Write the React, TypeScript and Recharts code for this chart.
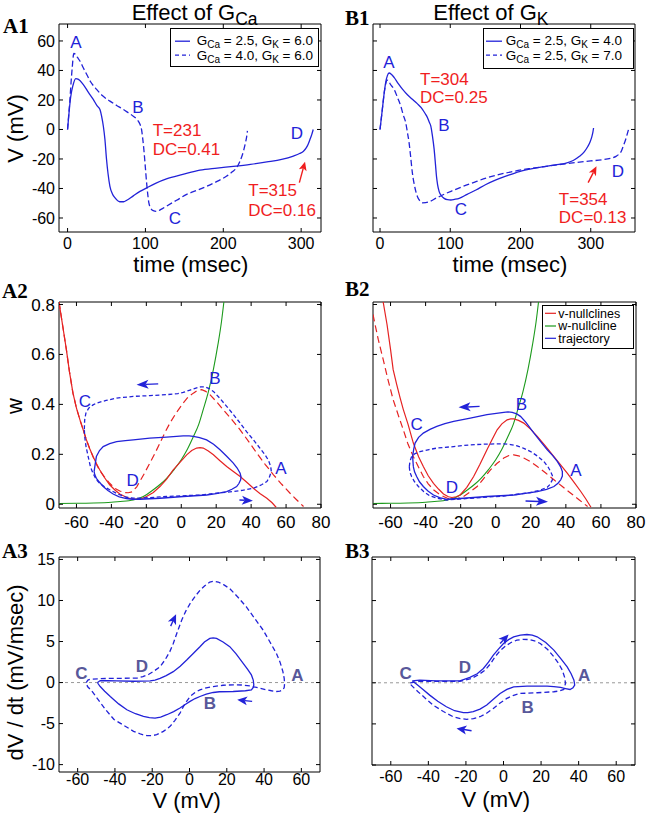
import React from "react";
import { LineChart, Line, XAxis, YAxis, ReferenceLine, ReferenceDot, ReferenceArea } from "recharts";

type Pt = [number, number];

// ---- A1 / B1: membrane potential V (mV) against time (msec)
const a1Solid: Pt[] = [
  [0, 0], [2, 12], [4, 22], [7, 30], [10.5, 34.5], [14, 34], [20, 30.6], [27, 25], [33, 20.4],
  [38, 16], [41.6, 13.6], [43.7, 9], [46, 2], [48, -6.8], [50, -20], [52, -30], [54.4, -38.5],
  [57.5, -43.5], [61, -46.4], [67, -49], [72, -49], [76, -48], [84.4, -45], [93, -42],
  [101.5, -39.6], [113, -36.5], [127, -33.5], [148, -30.5], [170, -27.6], [192, -26.2],
  [213, -25], [235, -23.6], [256, -22], [275, -20.3], [290, -18], [298, -16.3], [303, -14.7],
  [306.5, -12.5], [309, -10], [311.5, -6.5], [313.6, -3.5], [315.5, 0],
];
const a1Dashed: Pt[] = [
  [0, 0], [1.5, 10], [3, 20], [4.5, 32], [6, 42], [8, 51.5], [10, 51], [12.5, 49], [15.9, 46.4],
  [20, 42], [24.5, 37.4], [30, 32], [37.3, 27.2], [45, 22.8], [54.4, 19.2], [63, 16.3],
  [71.5, 13.6], [78, 11.3], [84.4, 9], [88, 7.5], [90.8, 5.7], [93, 3.5], [95, 0], [96.5, -6],
  [98, -13.6], [99.8, -25], [101.5, -36], [103, -44], [104.5, -50], [107, -53.5], [110, -55],
  [114.4, -55.5], [120, -54.2], [127, -52], [140, -48], [153, -44], [165, -41.5],
  [178.7, -38.5], [192, -35.2], [204, -31.7], [212, -28.5], [217, -26], [221, -22], [224, -18],
  [226.5, -13.5], [228.5, -9], [230, -5], [231, -1],
];
const b1Solid: Pt[] = [
  [0, 0], [3.3, 13.7], [6, 25], [8.1, 32], [10.5, 36.5], [12.8, 38.3], [16, 37.5], [20, 35.3],
  [26, 31], [31.9, 27.3], [39, 23.5], [46.1, 20.5], [53, 17.5], [60.4, 13.7], [64, 11],
  [67.6, 8], [70, 5], [72.3, 2.3], [74.5, -4], [77.1, -13.7], [79, -24], [80.4, -31.9],
  [82, -37.5], [84.2, -42.1], [87.5, -45], [91.3, -46.7], [96, -47.6], [100.9, -47.8],
  [106, -47.4], [112.7, -46.7], [124, -44], [136.5, -41], [150, -37.5], [165, -34.2],
  [180, -31.5], [198.4, -28.5], [217, -26.5], [236.4, -25], [250, -24], [265, -22.8],
  [275, -21], [284, -18.2], [291, -15], [296, -11.4], [299, -8.5], [301.5, -5], [303, -2], [304, 1],
];
const b1Dashed: Pt[] = [
  [0, 0], [3.3, 13.7], [6, 25], [8.1, 31], [10, 33.5], [12, 33], [15, 30.5], [20, 27.3],
  [25, 21.5], [29.5, 15.9], [33, 10], [36.6, 4.6], [39, -2], [41.4, -9.1], [43.5, -18],
  [46.1, -29.6], [49.5, -39], [53.3, -45.6], [57, -48.5], [60.4, -49.7], [65, -49.6], [70, -49],
  [80, -46.5], [89, -44.4], [103, -41.5], [117.5, -38.7], [134, -35.8], [150.8, -33],
  [170, -30.5], [188.9, -28.5], [212, -26.6], [236.4, -25], [260, -23.5], [284, -22.1],
  [300, -21.3], [317.3, -20.5], [328, -19.5], [336, -18.2], [340, -16.8], [343.5, -14.8],
  [346.5, -11], [349.7, -6.8], [352, -3], [354.4, 1.1],
];

// ---- A2 / B2: phase plane (V, w)
const wNull: Pt[] = [
  [-70, 0.003], [-60, 0.004], [-50, 0.005], [-40, 0.008], [-35, 0.011], [-30, 0.014],
  [-27.5, 0.017], [-22, 0.03], [-16, 0.058], [-12, 0.08], [-8.4, 0.104], [-4, 0.14], [0, 0.178],
  [3.5, 0.22], [6.9, 0.27], [10, 0.32], [12.6, 0.38], [15.5, 0.45], [18.4, 0.54], [21, 0.64],
  [23, 0.73], [24.4, 0.81],
];
const a2vNullSolid: Pt[] = [
  [-70, 0.81], [-68, 0.72], [-65.8, 0.62], [-64, 0.53], [-62, 0.445], [-60, 0.385], [-58, 0.338],
  [-56, 0.295], [-54.3, 0.258], [-52.4, 0.222], [-50.5, 0.191], [-48.6, 0.163], [-46.7, 0.138],
  [-44, 0.107], [-41, 0.078], [-38, 0.057], [-35.2, 0.041], [-32, 0.03], [-29.4, 0.023],
  [-25.6, 0.02], [-22.5, 0.023], [-19.9, 0.031], [-16, 0.047], [-12.2, 0.071], [-8.5, 0.1],
  [-4.6, 0.138], [-0.5, 0.17], [3.1, 0.198], [6, 0.215], [8.8, 0.225], [10.7, 0.227],
  [12.6, 0.225], [15.5, 0.213], [18.4, 0.198], [22, 0.175], [26, 0.151], [30, 0.13],
  [33.7, 0.111], [37.5, 0.088], [41.3, 0.064], [45, 0.043], [49, 0.024], [52, 0.006], [54.3, -0.012],
];
const a2vNullDashed: Pt[] = [
  [-70, 0.81], [-68, 0.72], [-65.8, 0.62], [-64, 0.53], [-62, 0.445], [-60, 0.385], [-58, 0.338],
  [-56, 0.295], [-54.3, 0.258], [-52.4, 0.222], [-50.5, 0.19], [-48.6, 0.16], [-46.7, 0.135],
  [-44, 0.11], [-41, 0.084], [-38, 0.064], [-35.2, 0.053], [-32.5, 0.047], [-30.4, 0.046],
  [-28, 0.05], [-25.5, 0.07], [-23.7, 0.092], [-21, 0.125], [-18, 0.165], [-15, 0.205],
  [-12.2, 0.245], [-9.5, 0.285], [-6.5, 0.325], [-3, 0.365], [1.1, 0.405], [4, 0.43],
  [6.9, 0.445], [9, 0.455], [11.7, 0.459], [14, 0.452], [16.4, 0.439], [20, 0.412], [24, 0.379],
  [28.8, 0.34], [33.7, 0.298], [38.5, 0.252], [43.2, 0.205], [48, 0.16], [52.8, 0.118],
  [57.5, 0.08], [62.3, 0.044], [66, 0.018], [70, -0.009],
];
const a2TrajSolid: Pt[] = [
  [-49.9, 0.131], [-49.3, 0.16], [-48.6, 0.191], [-46.8, 0.215], [-44.7, 0.231], [-41, 0.243],
  [-37, 0.251], [-32, 0.255], [-27.5, 0.258], [-18, 0.265], [-8.4, 0.269], [1.1, 0.274],
  [4.5, 0.274], [6.9, 0.272], [10.5, 0.267], [14.5, 0.258], [18.5, 0.24], [22.2, 0.218],
  [26, 0.192], [29.8, 0.165], [32, 0.145], [33.7, 0.124], [34.2, 0.11], [34, 0.098], [33, 0.083],
  [31.7, 0.071], [29, 0.06], [26, 0.051], [20, 0.043], [14.5, 0.037], [1.1, 0.031],
  [-12.2, 0.024], [-23.7, 0.02], [-28, 0.02], [-31.4, 0.023], [-35.5, 0.03], [-39, 0.041],
  [-42, 0.055], [-44.7, 0.071], [-46.8, 0.088], [-48.6, 0.104], [-49.5, 0.118], [-49.9, 0.131],
];
const a2TrajDashed: Pt[] = [
  [-55.5, 0.3], [-55.3, 0.338], [-54.6, 0.365], [-53, 0.385], [-50.5, 0.398], [-48.6, 0.405],
  [-43, 0.416], [-37, 0.425], [-27.5, 0.432], [-18, 0.435], [-8.4, 0.439], [-2, 0.443],
  [1.1, 0.448], [5, 0.457], [8.8, 0.466], [11, 0.47], [13.6, 0.47], [16, 0.463], [18.4, 0.452],
  [22, 0.425], [26, 0.392], [30, 0.358], [33.7, 0.325], [37.5, 0.29], [41.3, 0.258], [45, 0.225],
  [48, 0.198], [50, 0.175], [51.2, 0.151], [51.5, 0.135], [51.2, 0.124], [50.3, 0.105],
  [49, 0.091], [46, 0.078], [41.3, 0.064], [35, 0.056], [29.8, 0.051], [20, 0.044], [10.7, 0.037],
  [-8.4, 0.031], [-23.7, 0.024], [-28, 0.025], [-31.4, 0.028], [-36, 0.04], [-41, 0.058],
  [-44, 0.07], [-46.7, 0.084], [-48.8, 0.1], [-50.5, 0.124], [-52, 0.15], [-53.3, 0.191],
  [-54.5, 0.23], [-55.3, 0.272], [-55.5, 0.3],
];
const b2vNullSolid: Pt[] = [
  [-64.2, 0.81], [-62, 0.72], [-60, 0.62], [-58.5, 0.539], [-56.5, 0.48], [-54.5, 0.425],
  [-52.7, 0.379], [-50, 0.32], [-47, 0.245], [-44, 0.19], [-41.3, 0.151], [-38.5, 0.114],
  [-35.5, 0.084], [-32.5, 0.06], [-29.8, 0.041], [-27, 0.03], [-25, 0.027], [-22.5, 0.03],
  [-20.3, 0.037], [-16.5, 0.068], [-12.6, 0.111], [-9, 0.16], [-5, 0.218], [-2, 0.26],
  [0.8, 0.298], [3.5, 0.322], [6.5, 0.338], [8.5, 0.342], [10.3, 0.342], [13, 0.336], [16, 0.325],
  [20, 0.3], [23.7, 0.272], [28.5, 0.232], [33.2, 0.191], [37, 0.158], [40.9, 0.124],
  [44.7, 0.088], [48.5, 0.051], [51.5, 0.02], [54.3, -0.012],
];
const b2vNullDashed: Pt[] = [
  [-70, 0.76], [-69.6, 0.746], [-67, 0.66], [-64.2, 0.58], [-61.5, 0.5], [-58.5, 0.419],
  [-55.5, 0.355], [-52.7, 0.298], [-50, 0.24], [-47, 0.191], [-44, 0.148], [-41.3, 0.111],
  [-38.5, 0.082], [-35.5, 0.058], [-32.5, 0.042], [-29.8, 0.031], [-27.5, 0.024], [-25, 0.02],
  [-21.5, 0.024], [-18.3, 0.031], [-14.5, 0.05], [-10.6, 0.071], [-7, 0.102], [-3, 0.138],
  [0.8, 0.164], [4.6, 0.185], [7.5, 0.195], [10.3, 0.198], [13, 0.194], [16, 0.185], [20, 0.17],
  [23.7, 0.151], [28.5, 0.125], [33.2, 0.098], [38, 0.071], [42.8, 0.044], [47.5, 0.018],
  [52.4, -0.009],
];
const b2TrajSolid: Pt[] = [
  [-47, 0.151], [-47.4, 0.191], [-46.8, 0.22], [-46, 0.245], [-44, 0.268], [-41.3, 0.285],
  [-37.5, 0.3], [-33.6, 0.312], [-29, 0.323], [-24, 0.332], [-14.5, 0.345], [-5, 0.359],
  [4.6, 0.368], [7, 0.37], [9.4, 0.368], [12, 0.362], [14.1, 0.352], [17, 0.33], [21.8, 0.285],
  [25.5, 0.252], [29.4, 0.218], [32.5, 0.195], [35.2, 0.171], [37, 0.15], [38, 0.131], [38, 0.113],
  [37.1, 0.098], [35.5, 0.084], [33.2, 0.071], [29, 0.06], [23.7, 0.051], [10.3, 0.037],
  [-5, 0.031], [-18.3, 0.024], [-27.9, 0.02], [-32, 0.027], [-35.5, 0.037], [-38.5, 0.052],
  [-41.3, 0.071], [-43.5, 0.09], [-45.1, 0.111], [-46.3, 0.13], [-47, 0.151],
];
const b2TrajDashed: Pt[] = [
  [-49.3, 0.151], [-48.9, 0.172], [-48, 0.191], [-46, 0.203], [-43.2, 0.211], [-38, 0.219],
  [-33.6, 0.225], [-24, 0.231], [-14.5, 0.238], [-5, 0.241], [4.6, 0.242], [8.5, 0.239],
  [12.2, 0.234], [16, 0.224], [19.9, 0.211], [23.8, 0.193], [27.5, 0.171], [29.8, 0.15],
  [31.3, 0.131], [32.3, 0.115], [32.3, 0.098], [31, 0.08], [29.4, 0.068], [25, 0.056],
  [19.9, 0.047], [4.6, 0.033], [-14.5, 0.024], [-27.9, 0.017], [-33, 0.024], [-37.5, 0.033],
  [-41, 0.05], [-44.1, 0.071], [-46.3, 0.09], [-48, 0.111], [-49, 0.13], [-49.3, 0.151],
];

// ---- A3 / B3: dV/dt (mV/msec) against V (mV)
const a3Solid: Pt[] = [
  [-49.3, 0], [-47.9, 0.24], [-44, 0.22], [-39, 0.2], [-30, 0.16], [-21.1, 0.2], [-18.5, 0.3],
  [-15.8, 0.5], [-12.5, 0.85], [-8.7, 1.33], [-5, 2.0], [-1.5, 2.75], [2, 3.55], [5.6, 4.37],
  [8, 4.95], [10.9, 5.38], [12.7, 5.45], [14.5, 5.38], [18, 4.95], [21.6, 4.37], [25, 3.5],
  [28.8, 2.35], [31.2, 1.6], [33.2, 0.93], [34.2, 0.3], [34.5, -0.28], [34.2, -0.6], [33.2, -0.89],
  [30, -1.0], [23.4, -1.09], [16, -1.12], [12.7, -1.21], [9, -1.4], [5.6, -1.7], [3, -1.95],
  [0.3, -2.3], [-2.5, -2.7], [-5.1, -3.11], [-8.5, -3.55], [-12.2, -3.92], [-15.5, -4.2],
  [-18.5, -4.33], [-21.5, -4.28], [-24.7, -4.12], [-29, -3.8], [-33.6, -3.32], [-38, -2.6],
  [-42.5, -1.7], [-45.5, -1.05], [-47.9, -0.49], [-49, -0.15], [-49.3, 0],
];
const a3Dashed: Pt[] = [
  [-55.4, 0], [-54.5, 0.3], [-53.2, 0.4], [-49, 0.46], [-44.3, 0.5], [-37, 0.52], [-31, 0.53],
  [-28, 0.55], [-25, 0.72], [-22, 0.98], [-19, 1.4], [-15.8, 1.94], [-13, 2.8], [-10.5, 3.8],
  [-8.7, 4.77], [-6.5, 6.2], [-4.2, 7.6], [-2, 8.7], [0.3, 9.62], [3, 10.5], [5.6, 11.24],
  [8.2, 11.8], [10.9, 12.25], [13.2, 12.35], [15.4, 12.25], [18.5, 11.9], [21.6, 11.44],
  [26, 10.4], [30.5, 9.22], [35, 7.8], [39.5, 6.39], [43, 5.0], [46.6, 3.56], [48.7, 2.4],
  [50.1, 1.33], [50.8, 0.5], [51, -0.16], [50.8, -0.6], [50.1, -0.89], [48.5, -1.05],
  [46.6, -1.09], [44, -1.0], [41.3, -0.89], [37, -0.65], [32.4, -0.4], [28, -0.3], [23.4, -0.28],
  [18, -0.33], [12.7, -0.49], [9, -0.65], [5.6, -0.89], [3, -1.2], [0.3, -1.7], [-2.5, -2.6],
  [-5.1, -3.72], [-7.8, -4.6], [-10.4, -5.34], [-14, -5.95], [-17.6, -6.35], [-20, -6.47],
  [-22.9, -6.47], [-26, -6.3], [-30, -5.94], [-35, -5.25], [-40.5, -4.5], [-45, -3.3],
  [-49.6, -1.9], [-52.5, -1.0], [-54.7, -0.49], [-55.4, 0],
];
const b3Solid: Pt[] = [
  [-48.6, 0.24], [-44.6, 0.32], [-35.7, 0.24], [-23.2, 0.24], [-17.9, 0.65], [-14, 1.1],
  [-10.7, 1.74], [-8, 2.5], [-5.4, 3.36], [-2.7, 4.1], [0, 4.78], [2.7, 5.25], [5.4, 5.59],
  [9, 5.8], [12.5, 5.87], [15.3, 5.8], [17.9, 5.59], [22.5, 4.9], [26.8, 3.97], [30.5, 2.95],
  [33.9, 1.94], [36, 1.1], [37.5, 0.32], [37.9, -0.28], [37, -0.6], [35.4, -0.81], [33, -0.7],
  [30.4, -0.57], [26.8, -0.47], [23.2, -0.4], [12.5, -0.4], [5.4, -0.49], [1.8, -0.8],
  [-1.8, -1.3], [-5.4, -2.0], [-8.9, -2.71], [-12.5, -3.2], [-16.1, -3.52], [-19, -3.63],
  [-21.4, -3.64], [-26, -3.4], [-30.4, -2.91], [-35, -2.25], [-39.3, -1.5], [-43, -0.8],
  [-46.4, -0.16], [-48.6, 0.24],
];
const b3Dashed: Pt[] = [
  [-49.6, 0], [-44.6, 0.16], [-23.2, 0.16], [-17, 0.53], [-13.5, 0.95], [-9.8, 1.54],
  [-7, 2.3], [-4.5, 3.16], [-1.8, 3.9], [0.9, 4.45], [4, 4.9], [7.1, 5.18], [10.3, 5.28],
  [13.4, 5.26], [16.5, 5.1], [19.6, 4.78], [23.5, 4.05], [26.8, 3.16], [29.3, 2.35], [31.3, 1.54],
  [32.5, 0.7], [33, -0.08], [32.1, -0.81], [29.5, -1.0], [26.8, -1.09], [17.9, -1.21],
  [8.9, -1.3], [5, -1.55], [1.8, -1.9], [-1.8, -2.45], [-5.4, -3.12], [-9, -3.7], [-12.5, -4.13],
  [-16, -4.35], [-19.6, -4.45], [-23, -4.35], [-26.8, -4.13], [-32, -3.5], [-37.5, -2.71],
  [-41.5, -1.9], [-45.5, -1.09], [-47.5, -0.65], [-49.1, -0.28], [-49.6, 0],
];

// axis ticks
const timeTicks = [0, 100, 200, 300];
const vTicks = [-60, -40, -20, 0, 20, 40, 60];
const phaseVTicks = [-60, -40, -20, 0, 20, 40, 60, 80];
const wTicks = [0, 0.2, 0.4, 0.6, 0.8];
const dvTicks = [-10, -5, 0, 5, 10, 15];

// annotation anchors, in data units
const a1Letters: [string, number, number][] = [["A", 10.7, 59.5], ["B", 90.4, 15.3], ["C", 138, -60], ["D", 294.6, -2.3]];
const a1Notes: [string, number, number][] = [["T=231", 109.3, -0.3], ["DC=0.41", 109.3, -13.2], ["T=315", 232.1, -41], ["DC=0.16", 232.1, -54.6]];
const b1Letters: [string, number, number][] = [["A", 12.8, 45.9], ["B", 91, 3.1], ["C", 115, -54], ["D", 338.5, -28.2]];
const b1Notes: [string, number, number][] = [["T=304", 57, 34.3], ["DC=0.25", 57, 22.3], ["T=354", 254.6, -47.2], ["DC=0.13", 254.6, -59.2]];
const a2Letters: [string, number, number][] = [["C", -55.2, 0.412], ["B", 19.3, 0.506], ["A", 57, 0.144], ["D", -27.9, 0.095]];
const b2Letters: [string, number, number][] = [["C", -45.1, 0.322], ["B", 14.7, 0.402], ["A", 45.7, 0.138], ["D", -25, 0.068]];
const a3Letters: [string, number, number][] = [["C", -58, 1.14], ["D", -25.6, 2.03], ["A", 57.9, 0.93], ["B", 11, -2.5]];
const b3Letters: [string, number, number][] = [["C", -52.1, 1.21], ["D", -20.5, 1.94], ["A", 42.9, 0.93], ["B", 12.9, -2.91]];

const FONT = "'Liberation Sans', Arial, Helvetica, sans-serif";
const SERIF = "'Liberation Serif', 'Times New Roman', serif";
const BLUE = "#2222d8";
const RED = "#e52222";
const GREEN = "#1c9a1c";
const NOTE_RED = "#f01e1e";
const SLATE = "#58589a";
const TICK = 4;

const rows = (pts: Pt[]) => pts.map(([x, y]) => ({ x, y }));

const letter = (id: string, x: number, y: number, text: string, fill: string, opts: { anchor?: "start" | "middle"; bold?: boolean } = {}) => (
  <ReferenceDot
    key={id}
    x={x}
    y={y}
    r={0}
    ifOverflow="visible"
    shape={(p: any) => (
      <text x={p.cx} y={p.cy} dy="0.35em" textAnchor={opts.anchor || "middle"} fontSize={17}
        fontFamily={FONT} fontWeight={opts.bold ? 700 : 400} fill={fill}>
        {text}
      </text>
    )}
  />
);

const arrowShape = (color: string, len: number, half: number) => (p: any) => {
  const { x1, y1, x2, y2 } = p;
  const dx = x2 - x1;
  const dy = y2 - y1;
  const d = Math.hypot(dx, dy) || 1;
  const ux = dx / d;
  const uy = dy / d;
  const bx = x2 - ux * len;
  const by = y2 - uy * len;
  const nx = x2 - ux * len * 0.75;
  const ny = y2 - uy * len * 0.75;
  const pts = `${x2},${y2} ${bx - uy * half},${by + ux * half} ${nx},${ny} ${bx + uy * half},${by - ux * half}`;
  return (
    <g>
      <line x1={x1} y1={y1} x2={nx} y2={ny} stroke={color} strokeWidth={1.4} />
      <polygon points={pts} fill={color} />
    </g>
  );
};

const arrow = (id: string, tail: Pt, tip: Pt, color: string, len = 10, half = 4) => (
  <ReferenceLine
    key={id}
    segment={[{ x: tail[0], y: tail[1] }, { x: tip[0], y: tip[1] }]}
    ifOverflow="visible"
    shape={arrowShape(color, len, half)}
  />
);

// inward tick marks on both ends of a full-height / full-width reference line
const vTickShape = (p: any) => {
  const top = Math.min(p.y1, p.y2);
  const bot = Math.max(p.y1, p.y2);
  return (
    <g stroke="#000" strokeWidth={1}>
      <line x1={p.x1} x2={p.x1} y1={top} y2={top + TICK} />
      <line x1={p.x1} x2={p.x1} y1={bot - TICK} y2={bot} />
    </g>
  );
};
const hTickShape = (p: any) => {
  const lft = Math.min(p.x1, p.x2);
  const rgt = Math.max(p.x1, p.x2);
  return (
    <g stroke="#000" strokeWidth={1}>
      <line y1={p.y1} y2={p.y1} x1={lft} x2={lft + TICK} />
      <line y1={p.y1} y2={p.y1} x1={rgt - TICK} x2={rgt} />
    </g>
  );
};

type Box = { l: number; t: number; r: number; b: number };

function Panel(props: {
  box: Box;
  xDomain: [number, number];
  yDomain: [number, number];
  xTicks: number[];
  yTicks: number[];
  showY: boolean;
  xGap: number;
  tickFont?: number;
  children: React.ReactNode;
}) {
  const { box, xDomain, yDomain, xTicks, yTicks, showY, xGap } = props;
  const tickStyle = { fontSize: props.tickFont || 17, fill: "#000", fontFamily: FONT };
  const w = box.r - box.l + 60 + 12;
  const h = box.b - box.t + 12 + 40;
  return (
    <div style={{ position: "absolute", left: box.l - 60, top: box.t - 12 }}>
      <LineChart width={w} height={h} margin={{ top: 12, right: 12, bottom: 0, left: 0 }}>
        <XAxis type="number" dataKey="x" domain={xDomain} ticks={xTicks} allowDataOverflow interval={0}
          height={40} tickSize={0} tickMargin={xGap} axisLine={false} tickLine={false} tick={tickStyle} />
        <YAxis type="number" domain={yDomain} ticks={yTicks} allowDataOverflow interval={0} width={60}
          tickSize={0} tickMargin={4} axisLine={false} tickLine={false} tick={showY ? tickStyle : false} />
        {props.children}
        {xTicks.map((v) => (
          <ReferenceLine key={"xt" + v} x={v} ifOverflow="visible" shape={vTickShape} />
        ))}
        {yTicks.map((v) => (
          <ReferenceLine key={"yt" + v} y={v} ifOverflow="visible" shape={hTickShape} />
        ))}
        <ReferenceArea x1={xDomain[0]} x2={xDomain[1]} y1={yDomain[0]} y2={yDomain[1]} ifOverflow="visible"
          fill="none" fillOpacity={0} stroke="#000" strokeWidth={1} strokeOpacity={1} />
      </LineChart>
    </div>
  );
}

const line = (id: string, pts: Pt[], color: string, dash?: string, curve: "monotone" | "linear" = "linear", width = 1.3) => (
  <Line key={id} data={rows(pts)} dataKey="y" type={curve} stroke={color} strokeWidth={width}
    strokeDasharray={dash} dot={false} activeDot={false} isAnimationActive={false} />
);

function SubText(props: { x: number; y: number; size: number; sub: number; parts: [string, string][] }) {
  // parts: [normal text, subscript text]
  const drop = props.sub * 0.3;
  return (
    <text x={props.x} y={props.y} fontSize={props.size} fontFamily={FONT} fill="#000">
      {props.parts.map(([main, sub], i) => (
        <React.Fragment key={i}>
          <tspan dy={i === 0 ? 0 : -drop}>{main}</tspan>
          {sub ? <tspan fontSize={props.sub} dy={drop}>{sub}</tspan> : null}
        </React.Fragment>
      ))}
    </text>
  );
}

export default function App() {
  const A1: Box = { l: 59, t: 24, r: 321, b: 232 };
  const B1: Box = { l: 373, t: 24, r: 635, b: 232 };
  const A2: Box = { l: 59, t: 302, r: 321, b: 508 };
  const B2: Box = { l: 373, t: 302, r: 636, b: 508 };
  const A3: Box = { l: 59, t: 557, r: 320, b: 772 };
  const B3: Box = { l: 372, t: 557, r: 635, b: 765 };

  return (
    <div style={{ position: "absolute", left: 0, top: 0, width: 646, height: 815, background: "#fff", overflow: "hidden" }}>
      <Panel box={A1} xDomain={[-11, 325.5]} yDomain={[-69.5, 71.5]} xTicks={timeTicks} yTicks={vTicks} showY xGap={6} tickFont={16}>
        {line("s", a1Solid, BLUE, undefined, "monotone")}
        {line("d", a1Dashed, BLUE, "6 3", "monotone")}
        {a1Letters.map(([t, x, y]) => letter("l" + t, x, y, t, BLUE))}
        {a1Notes.map(([t, x, y]) => letter("n" + t, x, y, t, NOTE_RED, { anchor: "start" }))}
        {arrow("ar", [297.7, -36], [305, -21.8], NOTE_RED, 9, 4)}
      </Panel>

      <Panel box={B1} xDomain={[-10, 363]} yDomain={[-69.5, 71.5]} xTicks={timeTicks} yTicks={vTicks} showY={false} xGap={6} tickFont={16}>
        {line("s", b1Solid, BLUE, undefined, "monotone")}
        {line("d", b1Dashed, BLUE, "6 3", "monotone")}
        {b1Letters.map(([t, x, y]) => letter("l" + t, x, y, t, BLUE))}
        {b1Notes.map(([t, x, y]) => letter("n" + t, x, y, t, NOTE_RED, { anchor: "start" }))}
        {arrow("ar", [296.3, -36], [308.2, -25], NOTE_RED, 9, 4)}
      </Panel>

      <Panel box={A2} xDomain={[-70, 80]} yDomain={[-0.015, 0.81]} xTicks={phaseVTicks} yTicks={wTicks} showY xGap={8}>
        {line("g", wNull, GREEN, undefined, "monotone", 1.1)}
        {line("rs", a2vNullSolid, RED, undefined, "linear", 1.2)}
        {line("rd", a2vNullDashed, RED, "7 4", "linear", 1.2)}
        {line("bs", a2TrajSolid, BLUE)}
        {line("bd", a2TrajDashed, BLUE, "4 2.5")}
        {a2Letters.map(([t, x, y]) => letter("l" + t, x, y, t, BLUE))}
        {arrow("a1", [-13.2, 0.482], [-25.6, 0.479], BLUE, 12, 4.5)}
        {arrow("a2", [33.3, 0.017], [41, 0.014], BLUE, 11, 4.5)}
      </Panel>

      <Panel box={B2} xDomain={[-70, 80]} yDomain={[-0.015, 0.81]} xTicks={phaseVTicks} yTicks={wTicks} showY={false} xGap={8}>
        {line("g", wNull, GREEN, undefined, "monotone", 1.1)}
        {line("rs", b2vNullSolid, RED, undefined, "linear", 1.2)}
        {line("rd", b2vNullDashed, RED, "7 4", "linear", 1.2)}
        {line("bs", b2TrajSolid, BLUE)}
        {line("bd", b2TrajDashed, BLUE, "4 2.5")}
        {b2Letters.map(([t, x, y]) => letter("l" + t, x, y, t, BLUE))}
        {arrow("a1", [-9.2, 0.392], [-21.2, 0.388], BLUE, 12, 4.5)}
        {arrow("a2", [17, 0.013], [29.8, 0.01], BLUE, 12, 4.5)}
      </Panel>

      <Panel box={A3} xDomain={[-70, 70]} yDomain={[-10.9, 15.3]} xTicks={vTicks} yTicks={dvTicks} showY xGap={2} tickFont={16}>
        <ReferenceLine y={0} stroke="#999" strokeDasharray="3 3" strokeWidth={1} />
        {line("s", a3Solid, BLUE)}
        {line("d", a3Dashed, BLUE, "5 3")}
        {a3Letters.map(([t, x, y]) => letter("l" + t, x, y, t, SLATE, { bold: true }))}
        {arrow("a1", [-10.1, 6.88], [-7.2, 8.33], BLUE, 10, 4.5)}
        {arrow("a2", [33.6, -2.3], [25.6, -2.1], BLUE, 10, 4.5)}
      </Panel>

      <Panel box={B3} xDomain={[-70, 70]} yDomain={[-10, 15.3]} xTicks={vTicks} yTicks={dvTicks} showY={false} xGap={6} tickFont={16}>
        <ReferenceLine y={0} stroke="#999" strokeDasharray="3 3" strokeWidth={1} />
        {line("s", b3Solid, BLUE)}
        {line("d", b3Dashed, BLUE, "5 3")}
        {b3Letters.map(([t, x, y]) => letter("l" + t, x, y, t, SLATE, { bold: true }))}
        {arrow("a1", [-1.8, 4.78], [2.7, 5.87], BLUE, 10, 4.5)}
        {arrow("a2", [-17, -5.83], [-25, -5.55], BLUE, 10, 4.5)}
      </Panel>

      <svg width={646} height={815} style={{ position: "absolute", left: 0, top: 0, pointerEvents: "none" }}>
        {/* panel tags */}
        <g fontFamily={SERIF} fontWeight={700} fontSize={21} fill="#000">
          <text x={3} y={33}>A1</text>
          <text x={345} y={25}>B1</text>
          <text x={2} y={298}>A2</text>
          <text x={345} y={296}>B2</text>
          <text x={2} y={558}>A3</text>
          <text x={345} y={558}>B3</text>
        </g>

        {/* titles */}
        <SubText x={131.7} y={20} size={22} sub={17.5} parts={[["Effect of G", "Ca"]]} />
        <SubText x={433.3} y={20} size={22} sub={17.5} parts={[["Effect of G", "K"]]} />

        {/* axis titles */}
        <g fontFamily={FONT} fontSize={22} fill="#000" textAnchor="middle">
          <text transform="translate(22.7,128.5) rotate(-90)">V (mV)</text>
          <text x={190.8} y={272}>time (msec)</text>
          <text x={510} y={272}>time (msec)</text>
          <text transform="translate(21.7,406) rotate(-90)">w</text>
          <text transform="translate(23,672.5) rotate(-90)">dV / dt (mV/msec)</text>
          <text x={186.7} y={808}>V (mV)</text>
          <text x={495.8} y={807}>V (mV)</text>
        </g>

        {/* A1 legend */}
        <rect x={170.5} y={28.5} width={148} height={38} fill="#fff" stroke="#000" strokeWidth={1} />
        <line x1={175} x2={190} y1={41.2} y2={41.2} stroke={BLUE} strokeWidth={1.3} />
        <line x1={175} x2={190} y1={55.2} y2={55.2} stroke={BLUE} strokeWidth={1.3} strokeDasharray="4 3" />
        <SubText x={196.7} y={45.3} size={13.5} sub={10} parts={[["G", "Ca"], [" = 2.5, G", "K"], [" = 6.0", ""]]} />
        <SubText x={196.7} y={59.8} size={13.5} sub={10} parts={[["G", "Ca"], [" = 4.0, G", "K"], [" = 6.0", ""]]} />

        {/* B1 legend */}
        <rect x={483.5} y={28.5} width={150} height={40} fill="#fff" stroke="#000" strokeWidth={1} />
        <line x1={486} x2={502} y1={41.2} y2={41.2} stroke={BLUE} strokeWidth={1.3} />
        <line x1={486} x2={502} y1={55.2} y2={55.2} stroke={BLUE} strokeWidth={1.3} strokeDasharray="4 3" />
        <SubText x={505.7} y={45.3} size={13.5} sub={10} parts={[["G", "Ca"], [" = 2.5, G", "K"], [" = 4.0", ""]]} />
        <SubText x={505.7} y={59.8} size={13.5} sub={10} parts={[["G", "Ca"], [" = 2.5, G", "K"], [" = 7.0", ""]]} />

        {/* B2 legend */}
        <rect x={542.5} y={305.5} width={91} height={43} fill="#fff" stroke="#000" strokeWidth={1} />
        <line x1={545} x2={556} y1={313.3} y2={313.3} stroke={RED} strokeWidth={1.2} />
        <line x1={545} x2={556} y1={326} y2={326} stroke={GREEN} strokeWidth={1.2} />
        <line x1={545} x2={556} y1={338.3} y2={338.3} stroke={BLUE} strokeWidth={1.2} />
        <g fontFamily={FONT} fontSize={12.5} fill="#000">
          <text x={558.3} y={317.5}>v-nullclines</text>
          <text x={558.3} y={330}>w-nullcline</text>
          <text x={558.3} y={342.5}>trajectory</text>
        </g>
      </svg>
    </div>
  );
}
